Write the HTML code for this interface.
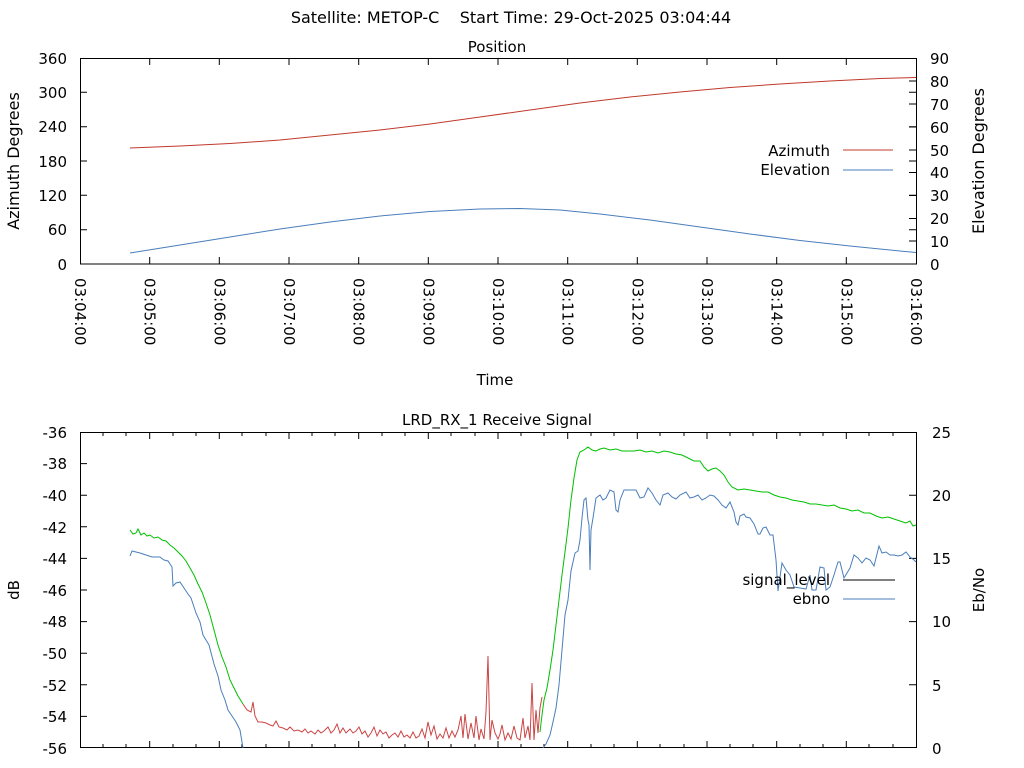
<!DOCTYPE html>
<html><head><meta charset="utf-8"><style>
body{margin:0;background:#fff}
svg{display:block;font-family:"DejaVu Sans","Liberation Sans",sans-serif;font-size:15px}
</style></head><body>
<svg width="1024" height="768" viewBox="0 0 1024 768" xmlns="http://www.w3.org/2000/svg">
<rect width="1024" height="768" fill="#fff"/>
<text x="511" y="23" text-anchor="middle" style="font-size:16px">Satellite: METOP-C&#160;&#160;&#160;&#160;Start Time: 29-Oct-2025 03:04:44</text>
<text x="497" y="52" text-anchor="middle">Position</text>
<rect x="80.5" y="58.5" width="836" height="205.5" fill="none" stroke="#000"/>
<g stroke="#000">
<path d="M80 92.3h7M80 126.7h7M80 161h7M80 195.3h7M80 229.7h7M916 92.3h-7M916 126.7h-7M916 161h-7M916 195.3h-7M916 229.7h-7"/>
<path d="M916 81h-7M916 104h-7M916 127h-7M916 150h-7M916 172.5h-7M916 195.5h-7M916 218.5h-7M916 241h-7"/>
<path d="M149.7 264v-7M219.3 264v-7M289 264v-7M358.7 264v-7M428.3 264v-7M498 264v-7M567.7 264v-7M637.3 264v-7M707 264v-7M776.7 264v-7M846.3 264v-7M149.7 58v7M219.3 58v7M289 58v7M358.7 58v7M428.3 58v7M498 58v7M567.7 58v7M637.3 58v7M707 58v7M776.7 58v7M846.3 58v7"/>
</g>
<g text-anchor="end">
<text x="67" y="64">360</text><text x="67" y="98">300</text><text x="67" y="132">240</text><text x="67" y="167">180</text><text x="67" y="201">120</text><text x="67" y="235">60</text><text x="67" y="270">0</text>
</g>
<g>
<text x="930" y="64">90</text><text x="930" y="87">80</text><text x="930" y="110">70</text><text x="930" y="133">60</text><text x="930" y="156">50</text><text x="930" y="178">40</text><text x="930" y="201">30</text><text x="930" y="224">20</text><text x="930" y="247">10</text><text x="930" y="270">0</text>
</g>
<text transform="translate(19,161) rotate(-90)" text-anchor="middle" style="font-size:16px">Azimuth Degrees</text>
<text transform="translate(984,161) rotate(-90)" text-anchor="middle" style="font-size:16px">Elevation Degrees</text>
<g>
<text transform="translate(75,278) rotate(90)">03:04:00</text>
<text transform="translate(144.7,278) rotate(90)">03:05:00</text>
<text transform="translate(214.3,278) rotate(90)">03:06:00</text>
<text transform="translate(284,278) rotate(90)">03:07:00</text>
<text transform="translate(353.7,278) rotate(90)">03:08:00</text>
<text transform="translate(423.3,278) rotate(90)">03:09:00</text>
<text transform="translate(493,278) rotate(90)">03:10:00</text>
<text transform="translate(562.7,278) rotate(90)">03:11:00</text>
<text transform="translate(632.3,278) rotate(90)">03:12:00</text>
<text transform="translate(702,278) rotate(90)">03:13:00</text>
<text transform="translate(771.7,278) rotate(90)">03:14:00</text>
<text transform="translate(841.3,278) rotate(90)">03:15:00</text>
<text transform="translate(911,278) rotate(90)">03:16:00</text>
</g>
<text x="495" y="385" text-anchor="middle">Time</text>
<polyline fill="none" stroke="#c0392b" stroke-width="1" points="130,148 180,146 230,143.5 280,140 330,135 380,130 430,124 480,117 530,110 580,103 630,97 680,92 730,87.5 780,84 830,81 880,78.5 916,77.5"/>
<polyline fill="none" stroke="#4a7ebb" stroke-width="1" points="130,253 180,245 230,237 280,229 330,222 380,216 430,211.5 480,209 520,208.5 560,210 600,214 650,220 700,227 750,234 800,240.5 850,246 900,251 916,252.5"/>
<text x="830" y="156" text-anchor="end">Azimuth</text>
<path d="M843 150h50" stroke="#c0392b"/>
<text x="830" y="175" text-anchor="end">Elevation</text>
<path d="M843 170h50" stroke="#4a7ebb"/>

<text x="497" y="425" text-anchor="middle">LRD_RX_1 Receive Signal</text>
<path d="M80 432.5H916.5V748M80.5 432V748" fill="none" stroke="#000"/>
<path d="M80 747.5H916" stroke="#000"/>
<g stroke="#000">
<path d="M80 463.6h7M80 495.2h7M80 526.8h7M80 558.4h7M80 590h7M80 621.6h7M80 653.2h7M80 684.8h7M80 716.4h7"/>
<path d="M916 495.2h-7M916 558.4h-7M916 621.6h-7M916 684.8h-7"/>
<path d="M149.7 432v7M219.3 432v7M289 432v7M358.7 432v7M428.3 432v7M498 432v7M567.7 432v7M637.3 432v7M707 432v7M776.7 432v7M846.3 432v7M149.7 748v-7M219.3 748v-7M289 748v-7M358.7 748v-7M428.3 748v-7M498 748v-7M567.7 748v-7M637.3 748v-7M707 748v-7M776.7 748v-7M846.3 748v-7"/>
<path d="M103 432v4M126 432v4M173 432v4M196 432v4M242 432v4M266 432v4M312 432v4M335 432v4M382 432v4M405 432v4M451 432v4M475 432v4M521 432v4M544 432v4M591 432v4M614 432v4M660 432v4M684 432v4M730 432v4M753 432v4M800 432v4M823 432v4M869 432v4M893 432v4"/>
<path d="M103 748v-4M126 748v-4M173 748v-4M196 748v-4M242 748v-4M266 748v-4M312 748v-4M335 748v-4M382 748v-4M405 748v-4M451 748v-4M475 748v-4M521 748v-4M544 748v-4M591 748v-4M614 748v-4M660 748v-4M684 748v-4M730 748v-4M753 748v-4M800 748v-4M823 748v-4M869 748v-4M893 748v-4"/>
</g>
<g text-anchor="end">
<text x="67" y="438">-36</text><text x="67" y="469">-38</text><text x="67" y="501">-40</text><text x="67" y="533">-42</text><text x="67" y="564">-44</text><text x="67" y="596">-46</text><text x="67" y="627">-48</text><text x="67" y="659">-50</text><text x="67" y="691">-52</text><text x="67" y="722">-54</text><text x="67" y="754">-56</text>
</g>
<g>
<text x="932" y="438">25</text><text x="932" y="501">20</text><text x="932" y="564">15</text><text x="932" y="627">10</text><text x="932" y="691">5</text><text x="932" y="754">0</text>
</g>
<text transform="translate(19,590) rotate(-90)" text-anchor="middle">dB</text>
<text transform="translate(984,590) rotate(-90)" text-anchor="middle">Eb/No</text>

<polyline fill="none" stroke="#00c000" points="130,530 133,534 136,533 138,529 141,535 144,533 147,536 150,535 154,538 158,537 162,540 166,541 170,545 174,548 178,552 182,556 186,561 190,568 194,575 198,584 202,592 206,603 210,615 214,630 218,645 222,657 226,667 230,680 234,688 238,696 243,704"/>
<polyline fill="none" stroke="#c44" points="243,704 247,710 251,712 253,702 255,716 258,722 262,722 266,723 270,725 273,726 276,721 279,727 283,728 287,730 290,727 294,731 298,730 302,732 305,729 308,733 311,731 315,734 318,730 321,733 324,731 328,727 331,733 334,730 337,724 340,733 343,728 346,733 350,729 353,733 356,731 359,727 362,734 365,731 368,737 371,733 374,727 377,736 380,730 383,734 386,732 389,738 392,735 395,733 398,737 401,731 404,737 407,735 410,738 413,732 416,738 419,736 422,729 425,738 428,722 431,735 434,726 437,739 440,734 443,738 446,728 449,738 452,731 455,737 458,730 461,716 463,738 465,714 468,739 471,723 474,738 476,716 479,740 481,729 484,739 486,712 488,656 490,740 492,720 495,733 498,739 500,734 502,725 505,740 508,733 511,739 514,726 517,738 520,740 523,718 525,738 528,726 530,740 532,683 534,740 536,710 538,733 540,708 542,697"/>
<polyline fill="none" stroke="#00c000" points="540,732 542,715 544,700 547,688 550,670 553,650 556,625 559,600 562,575 565,552 568,528 571,500 574,478 577,460 580,452 584,450 588,447 592,450 596,451 600,449 604,448 610,450 616,449 622,451 628,451 634,451 640,450 646,452 652,451 658,453 664,451 670,452 676,454 682,455 688,458 694,461 700,461 704,467 708,471 712,469 716,468 720,471 724,475 728,482 732,487 738,490 744,489 750,490 756,491 762,492 768,492 774,495 780,497 786,498 792,500 798,501 804,502 810,504 816,504 822,505 828,506 834,505 840,508 846,509 852,511 858,510 864,513 870,513 876,516 882,518 888,517 894,519 900,521 906,523 910,521 913,526 916,525"/>
<polyline fill="none" stroke="#4a7ebb" points="130,556 132,551 136,552 140,553 146,555 152,557 160,557 164,560 168,561 172,567 173,586 176,583 180,582 184,588 188,594 191,598 196,613 200,622 203,635 206,640 209,645 214,664 218,676 221,690 225,700 228,710 232,716 236,722 240,730 243,748"/>
<polyline fill="none" stroke="#4a7ebb" points="543,748 546,744 550,735 553,722 556,708 559,685 562,650 565,615 568,600 571,571 575,553 578,551 580,540 582,518 584,500 586,498 588,520 589,525 590,570 591,530 593,518 596,498 600,495 603,500 606,498 610,490 614,492 616,510 618,512 620,500 624,490 630,490 636,490 640,498 644,497 648,488 652,493 656,500 660,505 663,495 668,493 672,497 676,499 680,495 686,492 690,498 694,497 698,495 702,500 706,498 710,495 714,496 718,500 722,505 726,508 730,502 734,512 736,522 738,525 740,516 744,514 746,517 750,518 754,524 758,534 760,534 763,528 766,527 770,535 773,535 776,560 778,591 782,563 786,570 790,575 794,587 800,588 806,589 810,575 812,590 816,590 820,567 824,568 826,590 830,587 834,575 838,562 840,562 844,578 850,568 854,555 858,558 862,563 866,558 870,560 874,566 879,546 882,553 886,552 890,555 894,555 898,556 902,555 906,552 910,557 914,560 916,562"/>
<text x="830" y="585" text-anchor="end">signal_level</text>
<path d="M843 580h52" stroke="#000"/>
<text x="830" y="604" text-anchor="end">ebno</text>
<path d="M843 599h52" stroke="#4a7ebb"/>
</svg>
</body></html>
